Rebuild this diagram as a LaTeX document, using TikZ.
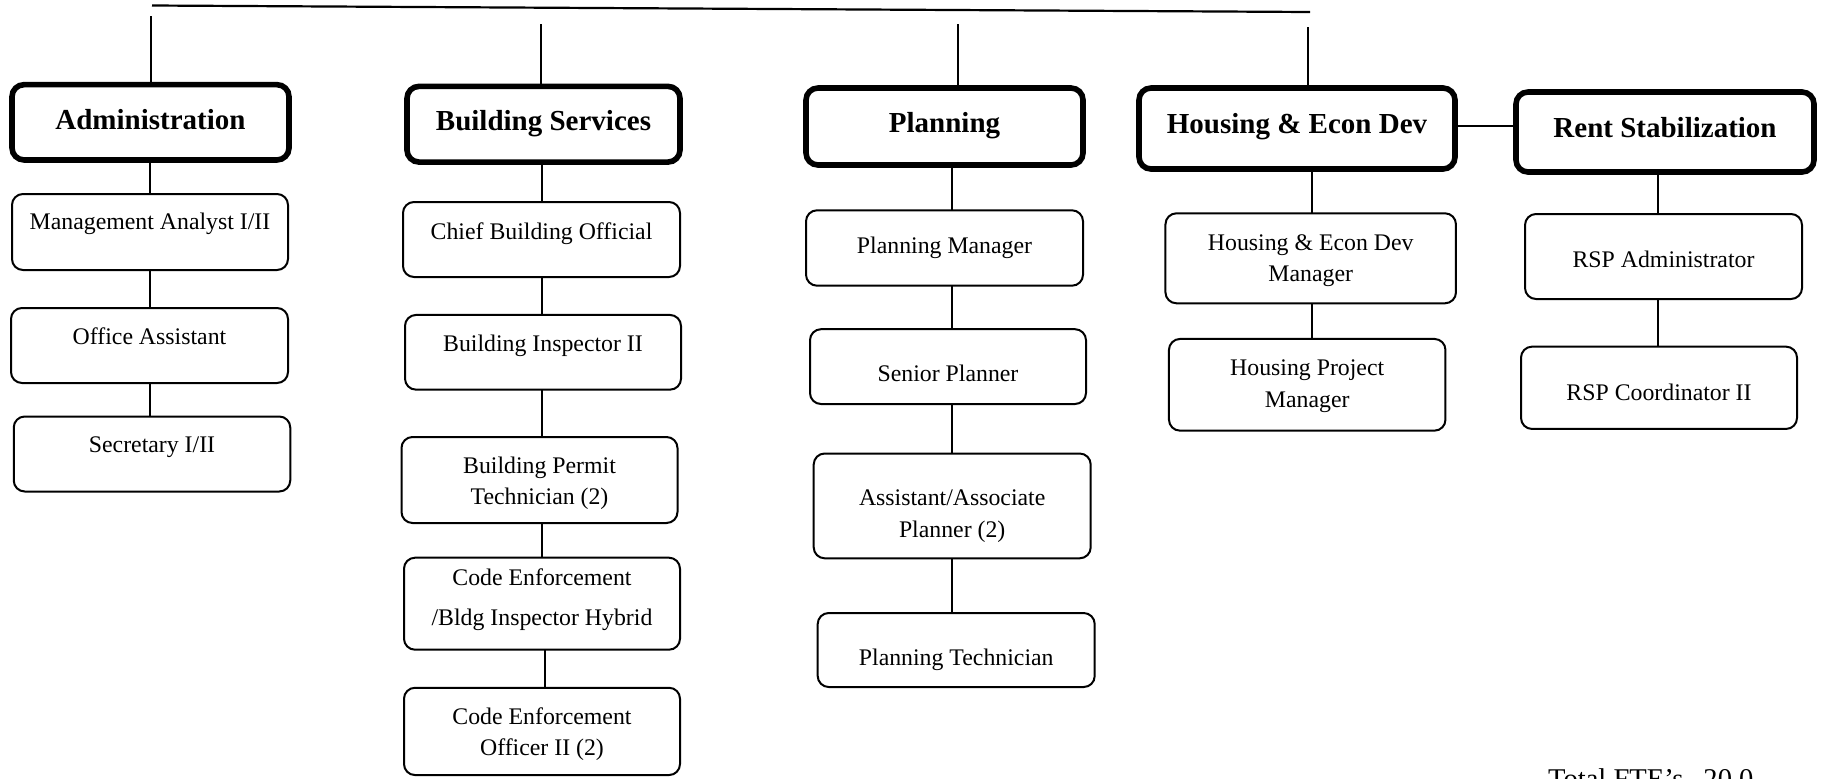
\documentclass[tikz,border=0pt]{standalone}
\usepackage{fontspec}
\setmainfont{Liberation Serif}
\usetikzlibrary{calc}
\tikzset{
  nodefit/.style={inner sep=0pt, outer sep=0pt},
  deptbox/.style={nodefit, draw, line width=2.8pt, rounded corners=6pt},
  rolebox/.style={nodefit, draw, line width=1pt, rounded corners=5.5pt},
  link/.style={line width=0.85pt},
  topbar/.style={line width=1.1pt},
  depttext/.style={nodefit, font=\fontsize{14.5}{17}\selectfont\bfseries, anchor=base},
  roletext/.style={nodefit, font=\fontsize{11.9}{15.5}\selectfont, anchor=base},
  roletwo/.style={nodefit, font=\fontsize{11.9}{15.5}\selectfont, align=center, anchor=center},
}
\begin{document}
\begin{tikzpicture}[x=0.5pt,y=-0.5pt]
\useasboundingbox (0,0) rectangle (1823,778);

% ---- department heads ----
\node[deptbox, minimum width=138.5pt, minimum height=37.65pt] (ad) at (150.5,122.3) {};
\node[depttext] (ad-t) at (150.5,129.5) {Administration};
\node[deptbox, minimum width=136.5pt, minimum height=37.85pt] (bs) at (543.5,124.2) {};
\node[depttext] (bs-t) at (543.5,130) {Building Services};
\node[deptbox, minimum width=138.5pt, minimum height=38.5pt] (pl) at (944.5,126.5) {};
\node[depttext] (pl-t) at (944.5,132) {Planning};
\node[deptbox, minimum width=158pt, minimum height=40.5pt] (hs) at (1297,128.5) {};
\node[depttext] (hs-t) at (1297,133) {Housing \& Econ Dev};
\node[deptbox, minimum width=149pt, minimum height=40pt] (rs) at (1665,132) {};
\node[depttext] (rs-t) at (1665,137) {Rent Stabilization};

% ---- Administration ----
\node[rolebox, minimum width=138pt, minimum height=38pt] (ma) at (150,232) {};
\node[roletext] (ma-t) at (150,229.4) {Management Analyst I/II};
\node[rolebox, minimum width=138.5pt, minimum height=37.5pt] (oa) at (149.5,345.5) {};
\node[roletext] (oa-t) at (149.5,344) {Office Assistant};
\node[rolebox, minimum width=138.25pt, minimum height=37.5pt] (se) at (152,454) {};
\node[roletext] (se-t) at (152,452.7) {Secretary I/II};

% ---- Building Services ----
\node[rolebox, minimum width=138.5pt, minimum height=37.5pt] (cb) at (541.5,239.5) {};
\node[roletext] (cb-t) at (541.5,239) {Chief Building Official};
\node[rolebox, minimum width=138pt, minimum height=37.35pt] (bi) at (543,352.3) {};
\node[roletext] (bi-t) at (543,351.7) {Building Inspector II};
\node[rolebox, minimum width=138pt, minimum height=43pt] (bp) at (539.5,480) {};
\node[roletwo] (bp-t) at (539.5,483) {Building Permit\\Technician (2)};
\node[rolebox, minimum width=138pt, minimum height=46pt] (hy) at (542,603.7) {};
\node[roletwo, font=\fontsize{11.9}{19.85}\selectfont] (hy-t) at (542,600) {Code Enforcement\\/Bldg Inspector Hybrid};
\node[rolebox, minimum width=138pt, minimum height=43.65pt] (ce) at (542,731.4) {};
\node[roletwo] (ce-t) at (542,734) {Code Enforcement\\Officer II (2)};

% ---- Planning ----
\node[rolebox, minimum width=138.5pt, minimum height=37.7pt] (pm) at (944.5,248) {};
\node[roletext] (pm-t) at (944.5,253) {Planning Manager};
\node[rolebox, minimum width=138pt, minimum height=37.4pt] (sp) at (948,366.6) {};
\node[roletext] (sp-t) at (948,381.8) {Senior Planner};
\node[rolebox, minimum width=138.5pt, minimum height=52.4pt] (aa) at (952.2,505.9) {};
\node[roletwo, font=\fontsize{11.9}{16}\selectfont] (aa-t) at (952.2,516) {Assistant/Associate\\Planner (2)};
\node[rolebox, minimum width=138.5pt, minimum height=37pt] (pt) at (956.2,650) {};
\node[roletext] (pt-t) at (956.2,665.7) {Planning Technician};

% ---- Housing & Econ Dev ----
\node[rolebox, minimum width=145.25pt, minimum height=45pt] (hm) at (1310.7,258.3) {};
\node[roletwo, font=\fontsize{11.9}{15.75}\selectfont] (hm-t) at (1310.7,260.8) {Housing \& Econ Dev\\Manager};
\node[rolebox, minimum width=138.25pt, minimum height=45.85pt] (hp) at (1307.2,384.8) {};
\node[roletwo, font=\fontsize{11.9}{16}\selectfont] (hp-t) at (1307.2,386) {Housing Project\\Manager};

% ---- Rent Stabilization ----
\node[rolebox, minimum width=138.5pt, minimum height=42.5pt] (ra) at (1663.5,256.5) {};
\node[roletext] (ra-t) at (1663.5,267) {RSP Administrator};
\node[rolebox, minimum width=138pt, minimum height=41.15pt] (rc) at (1659,387.8) {};
\node[roletext] (rc-t) at (1659,400) {RSP Coordinator II};

% ---- top bar and drops ----
\coordinate (topL) at (152,5.5);
\coordinate (topR) at (1310,12);
\draw[topbar] (topL) -- (topR);
\coordinate (t-ad) at (151,16);
\coordinate (t-bs) at (541,24);
\coordinate (t-pl) at (958,24);
\coordinate (t-hs) at (1308,27);
\draw[link] (t-ad) -- (t-ad |- ad.north);
\draw[link] (t-bs) -- (t-bs |- bs.north);
\draw[link] (t-pl) -- (t-pl |- pl.north);
\draw[link] (t-hs) -- (t-hs |- hs.north);

% side link between the two housing-related departments
\coordinate (hrY) at (0,126);
\draw[link] (hs.east |- hrY) -- (rs.west |- hrY);

% ---- column spines ----
\coordinate (cad) at (150,0);
\coordinate (cbs) at (542,0);
\coordinate (cce) at (545,0);
\coordinate (cpl) at (952,0);
\coordinate (chs) at (1312,0);
\coordinate (crs) at (1658,0);

\draw[link] (cad |- ad.south) -- (cad |- ma.north);
\draw[link] (cad |- ma.south) -- (cad |- oa.north);
\draw[link] (cad |- oa.south) -- (cad |- se.north);

\draw[link] (cbs |- bs.south) -- (cbs |- cb.north);
\draw[link] (cbs |- cb.south) -- (cbs |- bi.north);
\draw[link] (cbs |- bi.south) -- (cbs |- bp.north);
\draw[link] (cbs |- bp.south) -- (cbs |- hy.north);
\draw[link] (cce |- hy.south) -- (cce |- ce.north);

\draw[link] (cpl |- pl.south) -- (cpl |- pm.north);
\draw[link] (cpl |- pm.south) -- (cpl |- sp.north);
\draw[link] (cpl |- sp.south) -- (cpl |- aa.north);
\draw[link] (cpl |- aa.south) -- (cpl |- pt.north);

\draw[link] (chs |- hs.south) -- (chs |- hm.north);
\draw[link] (chs |- hm.south) -- (chs |- hp.north);

\draw[link] (crs |- rs.south) -- (crs |- ra.north);
\draw[link] (crs |- ra.south) -- (crs |- rc.north);

% ---- staffing total ----
\node[nodefit, font=\fontsize{14.3}{17}\selectfont, anchor=base west] (fte) at (1548,788) {Total FTE's\hspace{10pt}20.0};
\end{tikzpicture}
\end{document}
